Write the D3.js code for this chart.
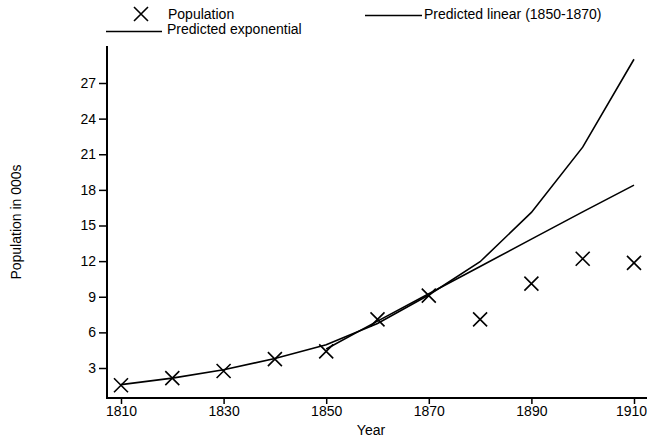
<!DOCTYPE html>
<html>
<head>
<meta charset="utf-8">
<script src="https://cdn.jsdelivr.net/npm/d3@7"></script>
<style>
  body { margin: 0; background: #fff; }
  svg { display: block; font-family: "Liberation Sans", Arial, Helvetica, sans-serif; }
</style>
</head>
<body>
<svg id="chart" width="647" height="443"></svg>
<script>
const years = [1810, 1820, 1830, 1840, 1850, 1860, 1870, 1880, 1890, 1900, 1910];
const population = [1.55, 2.15, 2.75, 3.75, 4.4, 7.1, 9.1, 7.1, 10.1, 12.2, 11.85];
const predictedExponential = [1.6, 2.15, 2.85, 3.8, 4.95, 6.75, 9.15, 11.95, 16.1, 21.6, 29.0];
const linearYears = [1850, 1860, 1870, 1880, 1890, 1900, 1910];
const predictedLinear = [4.6, 6.95, 9.25, 11.55, 13.85, 16.15, 18.4];
const xTicks = [1810, 1830, 1850, 1870, 1890, 1910];
const yTicks = [3, 6, 9, 12, 15, 18, 21, 24, 27];

const FONT = "Liberation Sans, Arial, sans-serif";
const FS = 14;
const svg = d3.select("#chart");
const x = d3.scaleLinear().domain([1810, 1910]).range([121, 634]);
const y = d3.scaleLinear().domain([3, 27]).range([368, 83]);

const axisLeftX = 107, axisBottomY = 398, axisTopY = 46, axisRightX = 647;

// Axes
const gx = svg.append("g").attr("transform", `translate(0,${axisBottomY})`)
  .call(d3.axisBottom(x).tickValues(xTicks).tickFormat(d3.format("d")).tickSize(6).tickPadding(2));
gx.select(".domain").remove();
gx.selectAll("line").attr("stroke", "#000").attr("stroke-width", 1.5);
gx.selectAll("text").attr("font-size", FS).attr("fill", "#000").attr("font-family", FONT)
  .attr("dx", d => d === 1910 ? -3 : 0);

const gy = svg.append("g").attr("transform", `translate(${axisLeftX},0)`)
  .call(d3.axisLeft(y).tickValues(yTicks).tickSize(8).tickPadding(3));
gy.select(".domain").remove();
gy.selectAll("line").attr("stroke", "#000").attr("stroke-width", 1.5);
gy.selectAll("text").attr("font-size", FS).attr("fill", "#000").attr("font-family", FONT);

svg.append("path")
  .attr("d", `M${axisLeftX},${axisTopY}V${axisBottomY}H${axisRightX}`)
  .attr("fill", "none").attr("stroke", "#000").attr("stroke-width", 2);

// Axis titles
svg.append("text").attr("x", 371).attr("y", 435).attr("text-anchor", "middle")
  .attr("font-size", FS).attr("font-family", FONT).text("Year");
svg.append("text").attr("transform", `translate(21,${(axisTopY + axisBottomY) / 2}) rotate(-90)`)
  .attr("text-anchor", "middle").attr("font-size", FS).attr("font-family", FONT).text("Population in 000s");

// Lines
const line = d3.line().x(d => x(d[0])).y(d => y(d[1]));
svg.append("path")
  .datum(years.map((yr, i) => [yr, predictedExponential[i]]))
  .attr("d", line).attr("fill", "none").attr("stroke", "#000").attr("stroke-width", 1.6);
svg.append("path")
  .datum(linearYears.map((yr, i) => [yr, predictedLinear[i]]))
  .attr("d", line).attr("fill", "none").attr("stroke", "#000").attr("stroke-width", 1.6);

// Markers
const cross = (g, cx, cy, r) => {
  g.append("path")
    .attr("d", `M${cx - r},${cy - r}L${cx + r},${cy + r}M${cx - r},${cy + r}L${cx + r},${cy - r}`)
    .attr("stroke", "#000").attr("stroke-width", 1.6).attr("fill", "none");
};
const markers = svg.append("g");
years.forEach((yr, i) => cross(markers, x(yr), y(population[i]), 7));

// Legend
const legend = svg.append("g").attr("font-size", FS).attr("font-family", FONT);
cross(legend, 141, 14, 7);
legend.append("text").attr("x", 168).attr("y", 18.5).text("Population");
legend.append("line").attr("x1", 106).attr("x2", 162).attr("y1", 31.5).attr("y2", 31.5)
  .attr("stroke", "#000").attr("stroke-width", 1.6);
legend.append("text").attr("x", 167).attr("y", 33.5).text("Predicted exponential");
legend.append("line").attr("x1", 365).attr("x2", 422).attr("y1", 15.5).attr("y2", 15.5)
  .attr("stroke", "#000").attr("stroke-width", 1.6);
legend.append("text").attr("x", 424).attr("y", 18.5).text("Predicted linear (1850-1870)");
</script>
</body>
</html>
